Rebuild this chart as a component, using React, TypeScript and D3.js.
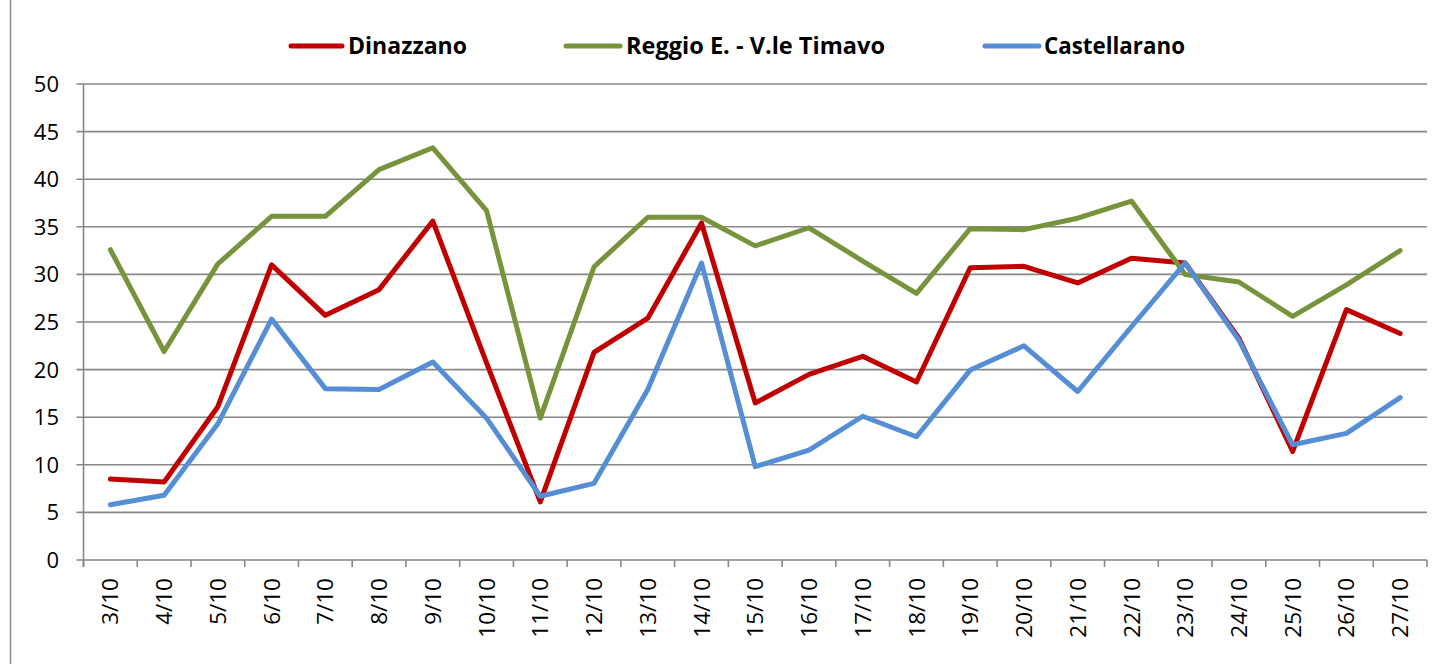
import React from "react";
import * as d3 from "d3";

const categories = ["3/10","4/10","5/10","6/10","7/10","8/10","9/10","10/10","11/10","12/10","13/10","14/10","15/10","16/10","17/10","18/10","19/10","20/10","21/10","22/10","23/10","24/10","25/10","26/10","27/10"];
const dinazzano = [8.5,8.2,16.1,31.0,25.7,28.4,35.6,20.7,6.1,21.8,25.4,35.4,16.5,19.5,21.4,18.7,30.7,30.85,29.1,31.7,31.2,23.3,11.4,26.3,23.8];
const reggio = [32.6,21.9,31.1,36.1,36.1,41.0,43.3,36.7,14.9,30.8,36.0,36.0,33.0,34.9,31.4,28.0,34.8,34.7,35.9,37.7,30.0,29.2,25.6,28.9,32.5];
const castellarano = [5.8,6.8,14.3,25.3,18.0,17.9,20.8,14.9,6.7,8.05,17.9,31.2,9.8,11.55,15.1,12.95,19.95,22.5,17.7,24.5,31.2,23.1,12.1,13.3,17.05];
const yTicks = [0,5,10,15,20,25,30,35,40,45,50];
const seriesNames = ["Dinazzano","Reggio E. - V.le Timavo","Castellarano"];

const colors = ["#C00000","#77933C","#558ED5"];
const FONT = "'Open Sans', 'Liberation Sans', sans-serif";

export default function App() {
  const W = 1450, H = 664;
  const left = 83.5, right = 1427, top = 84, bottom = 560;
  const x = d3.scaleBand<string>().domain(categories).range([left, right]).padding(0);
  const y = d3.scaleLinear().domain([0, 50]).range([bottom, top]);
  const cx = (c: string) => (x(c) as number) + x.bandwidth() / 2;
  const line = d3.line<number>().x((_, i) => cx(categories[i])).y((v) => y(v));
  const allSeries = [dinazzano, reggio, castellarano];
  const legend = [
    { lx1: 291, lx2: 342, tx: 348, tl: 119 },
    { lx1: 566, lx2: 620, tx: 626, tl: 259 },
    { lx1: 985, lx2: 1039, tx: 1044, tl: 141 },
  ];
  const gridColor = "#878787";
  const boundaries = [...categories.map((c) => x(c) as number), right];
  return (
    <svg width={W} height={H} style={{ position: "absolute", left: 0, top: 0, background: "#fff" }}>
      <rect x={0} y={0} width={W} height={H} fill="#fff" />
      <line x1={10.5} x2={10.5} y1={0} y2={H} stroke="#8a8a8a" strokeWidth={1.5} />
      {yTicks.map((t) => (
        <g key={t}>
          <line x1={left - 7} x2={right} y1={y(t)} y2={y(t)} stroke={gridColor} strokeWidth={1.6} />
          <text x={59} y={y(t)} dy="0.36em" textAnchor="end" fontFamily={FONT} fontSize={22} fill="#000">{t}</text>
        </g>
      ))}
      <line x1={left} x2={left} y1={top} y2={bottom + 7} stroke={gridColor} strokeWidth={1.6} />
      {boundaries.map((b, i) => (
        <line key={i} x1={b} x2={b} y1={bottom} y2={bottom + 7} stroke={gridColor} strokeWidth={1.6} />
      ))}
      {categories.map((c) => (
        <text key={c} transform={`translate(${cx(c)},578) rotate(-90)`} dy="0.36em" textAnchor="end" fontFamily={FONT} fontSize={22.5} fill="#000">{c}</text>
      ))}
      {allSeries.map((s, k) => (
        <path key={k} d={line(s) as string} fill="none" stroke={colors[k]} strokeWidth={5} strokeLinejoin="round" strokeLinecap="round" />
      ))}
      {seriesNames.map((n, k) => (
        <g key={n}>
          <line x1={legend[k].lx1} x2={legend[k].lx2} y1={46} y2={46} stroke={colors[k]} strokeWidth={5} strokeLinecap="round" />
          <text x={legend[k].tx} y={46} dy="0.36em" fontFamily={FONT} fontWeight="bold" fontSize={23} textLength={legend[k].tl} lengthAdjust="spacingAndGlyphs" fill="#000">{n}</text>
        </g>
      ))}
    </svg>
  );
}
